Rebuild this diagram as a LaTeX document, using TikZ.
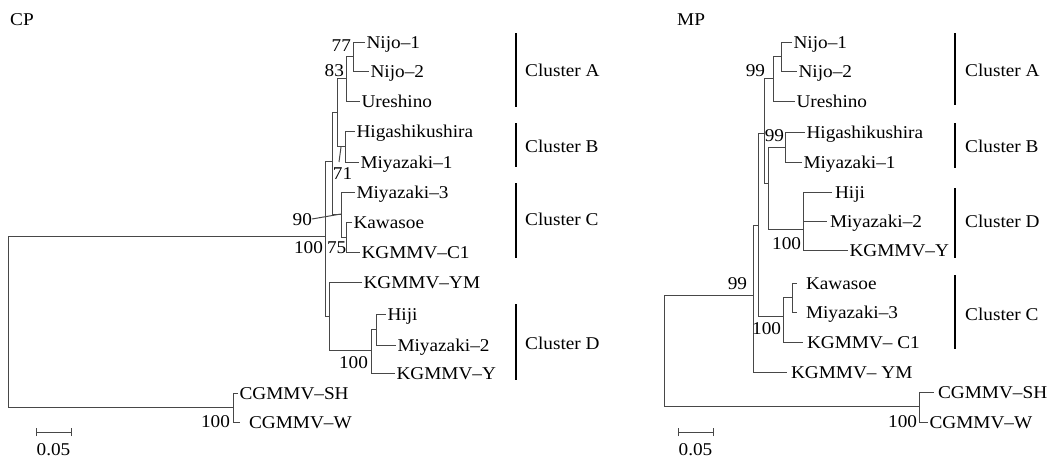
\documentclass[tikz,border=0pt]{standalone}
\usepackage{fontspec}
\setmainfont[FakeStretch=1.07]{Liberation Serif}
\begin{document}
\begin{tikzpicture}[x=1pt,y=-1pt,
  font=\fontsize{18}{21}\selectfont,
  br/.style={draw=black!72, line width=1pt},
  leaf/.style={anchor=west, inner xsep=1.5pt, inner ysep=0pt, outer sep=0pt, text height=12pt, text depth=0pt},
  boot/.style={anchor=east, inner sep=0pt, outer sep=0pt, text height=12pt, text depth=0pt},
  clbar/.style={draw=black, line width=1.8pt},
  cllab/.style={anchor=west, inner sep=0pt, text height=12pt, text depth=0pt},
  ttl/.style={anchor=west, inner sep=0pt, text height=12pt, text depth=0pt}]
\useasboundingbox (0,0) rectangle (1056,458);

% ================= CP tree =================
\node[ttl] (tcp) at (10,19.5) {CP};
\coordinate (root) at (8,321);
\coordinate (in) at (325,236);
\coordinate (cg) at (233,407);
\coordinate (y) at (332,161);
\coordinate (z) at (329,316);
\coordinate (x) at (337,112);
\coordinate (c) at (341,214);
\coordinate (a2) at (346,78);
\coordinate (a1) at (353,56.5);
\coordinate (b) at (345,146);
\coordinate (c2) at (346,237);
\coordinate (d) at (371,350);
\coordinate (d1) at (376,329);

\node[leaf] (n1) at (365,42) {Nijo–1};
\node[leaf] (n2) at (369,71) {Nijo–2};
\node[leaf] (ur) at (360,101) {Ureshino};
\node[leaf] (hg) at (355,131) {Higashikushira};
\node[leaf] (mi1) at (359,162) {Miyazaki–1};
\node[leaf] (mi3) at (355,192) {Miyazaki–3};
\node[leaf] (kw) at (352,222) {Kawasoe};
\node[leaf] (kc1) at (360,252) {KGMMV–C1};
\node[leaf] (kym) at (362,282) {KGMMV–YM};
\node[leaf] (hj) at (386,314) {Hiji};
\node[leaf] (mi2) at (396,345) {Miyazaki–2};
\node[leaf] (ky) at (395,373) {KGMMV–Y};
\node[leaf] (sh) at (238,393) {CGMMV–SH};
\node[leaf, inner xsep=9pt] (w) at (240,422) {CGMMV–W};

\draw[br] (root) |- (in) (root) |- (cg);
\draw[br] (cg) |- (sh.west) (cg) |- (w.west);
\draw[br] (in) |- (y) (in) |- (z);
\draw[br] (y) |- (x) (y) |- (c);
\draw[br] (x) |- (a2) (x) |- (b);
\draw[br] (a2) |- (a1) (a2) |- (ur.west);
\draw[br] (a1) |- (n1.west) (a1) |- (n2.west);
\draw[br] (b) |- (hg.west) (b) |- (mi1.west);
\draw[br] (c) |- (mi3.west) (c) |- (c2);
\draw[br] (c2) |- (kw.west) (c2) |- (kc1.west);
\draw[br] (z) |- (kym.west) (z) |- (d);
\draw[br] (d) |- (d1) (d) |- (ky.west);
\draw[br] (d1) |- (hj.west) (d1) |- (mi2.west);

\node[boot] (l77) at (351,45) {77};
\node[boot] (l83) at (344,70) {83};
\node[boot, anchor=north] (l71) at (342.5,167) {71};
\coordinate (t71a) at (341,147);
\coordinate (t71b) at (339,162);
\draw[br] (t71b) -- (t71a);
\node[boot] (l90) at (312,219) {90};
\draw[br] (l90.east) -- (c);
\node[boot] (l100a) at (323,247) {100};
\node[boot, anchor=west] (l75) at (327,247) {75};
\node[boot] (l100d) at (368,362) {100};
\node[boot] (l100g) at (230,421) {100};

\coordinate (s1) at (36,432);
\coordinate (s2) at (71,432);
\draw[br] (s1) -- (s2);
\draw[br] ([yshift=-4pt]s1) -- ([yshift=4pt]s1);
\draw[br] ([yshift=-4pt]s2) -- ([yshift=4pt]s2);
\node[inner sep=0pt, text height=12pt, text depth=0pt] (sl) at (53.5,449) {0.05};

\draw[clbar] (516,33) -- (516,107);
\draw[clbar] (516,123) -- (516,167);
\draw[clbar] (516,183) -- (516,258);
\draw[clbar] (516,304) -- (516,380);
\node[cllab] (ca) at (525,70) {Cluster A};
\node[cllab] (cb) at (525,146) {Cluster B};
\node[cllab] (cc) at (525,219) {Cluster C};
\node[cllab] (cd) at (525,343) {Cluster D};

% ================= MP tree =================
\node[ttl] (tmp) at (677,19.5) {MP};
\coordinate (mroot) at (664,350);
\coordinate (m1) at (753,295);
\coordinate (mcg) at (919,406);
\coordinate (m2) at (758,225);
\coordinate (mabd) at (764,133);
\coordinate (mc) at (783,316);
\coordinate (mc1) at (792,297);
\coordinate (ma) at (773,78);
\coordinate (ma1) at (781,56);
\coordinate (mbd) at (768,183);
\coordinate (mb) at (785,147);
\coordinate (md) at (803,229);

\node[leaf] (pn1) at (792,42) {Nijo–1};
\node[leaf] (pn2) at (797,71) {Nijo–2};
\node[leaf] (pur) at (795,101) {Ureshino};
\node[leaf] (phg) at (805,132) {Higashikushira};
\node[leaf] (pmi1) at (802,162) {Miyazaki–1};
\node[leaf, inner xsep=3pt] (phj) at (832,192) {Hiji};
\node[leaf, inner xsep=3pt] (pmi2) at (827,221) {Miyazaki–2};
\node[leaf] (pky) at (848,250) {KGMMV–Y};
\node[leaf, inner xsep=9pt] (pkw) at (797,283) {Kawasoe};
\node[leaf, inner xsep=9pt] (pmi3) at (797,312) {Miyazaki–3};
\node[leaf, inner xsep=4pt] (pkc1) at (803,342) {KGMMV– C1};
\node[leaf, inner xsep=4pt] (pkym) at (787,372) {KGMMV– YM};
\node[leaf, inner xsep=4pt] (psh) at (934,392) {CGMMV–SH};
\node[leaf] (pw) at (928,422) {CGMMV–W};

\draw[br] (mroot) |- (m1) (mroot) |- (mcg);
\draw[br] (mcg) |- (psh.west) (mcg) |- (pw.west);
\draw[br] (m1) |- (m2) (m1) |- (pkym.west);
\draw[br] (m2) |- (mabd) (m2) |- (mc);
\draw[br] (mabd) |- (ma) (mabd) |- (mbd);
\draw[br] (ma) |- (ma1) (ma) |- (pur.west);
\draw[br] (ma1) |- (pn1.west) (ma1) |- (pn2.west);
\draw[br] (mbd) |- (mb) (mbd) |- (md);
\draw[br] (mb) |- (phg.west) (mb) |- (pmi1.west);
\draw[br] (md) |- (phj.west) (md) |- (pky.west);
\draw[br] (md |- pmi2.west) -- (pmi2.west);
\draw[br] (mc) |- (mc1) (mc) |- (pkc1.west);
\draw[br] (mc1) |- (pkw.west) (mc1) |- (pmi3.west);

\node[boot] (p99a) at (765,70) {99};
\node[boot] (p99b) at (784,135) {99};
\node[boot] (p100d) at (801,243) {100};
\node[boot] (p100c) at (781,328) {100};
\node[boot] (p99r) at (747,283) {99};
\node[boot] (p100g) at (917,421) {100};

\coordinate (ps1) at (678,432);
\coordinate (ps2) at (713,432);
\draw[br] (ps1) -- (ps2);
\draw[br] ([yshift=-4pt]ps1) -- ([yshift=4pt]ps1);
\draw[br] ([yshift=-4pt]ps2) -- ([yshift=4pt]ps2);
\node[inner sep=0pt, text height=12pt, text depth=0pt] (psl) at (695.5,449) {0.05};

\draw[clbar] (955,33) -- (955,105);
\draw[clbar] (955,123) -- (955,168);
\draw[clbar] (955,188) -- (955,258);
\draw[clbar] (955,275) -- (955,349);
\node[cllab] (pca) at (965,70) {Cluster A};
\node[cllab] (pcb) at (965,146) {Cluster B};
\node[cllab] (pcd) at (965,221) {Cluster D};
\node[cllab] (pcc) at (965,314) {Cluster C};
\end{tikzpicture}
\end{document}
